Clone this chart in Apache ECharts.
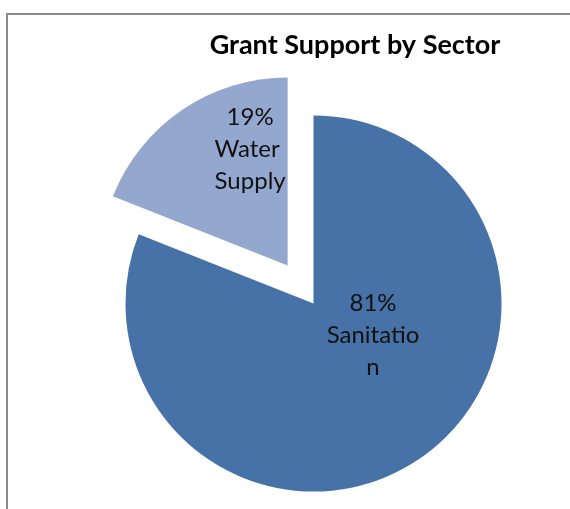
<!DOCTYPE html>
<html>
<head>
<meta charset="utf-8">
<script src="https://cdn.jsdelivr.net/npm/echarts@6/dist/echarts.min.js"></script>
<style>
  html, body { margin: 0; padding: 0; background: #ffffff; }
  #chart { width: 570px; height: 509px; }
</style>
</head>
<body>
<div id="chart"></div>
<script>
// Grant support split by sector (percent of total)
const sectors = ['Sanitation', 'Water Supply'];
const shares = [81, 19];
const chartTitle = 'Grant Support by Sector';

const sectorColors = ['#4672A7', '#94A8CF'];
// Water Supply slice is pulled out of the pie
const explodedSector = 'Water Supply';
// label nudges (dx, dy) so the text sits where it reads best inside each slice
const labelNudges = [[5, -48], [17, -36]];

const chart = echarts.init(document.getElementById('chart'), null, { renderer: 'canvas' });

const pieData = sectors.map((name, i) => ({
  name: name,
  value: shares[i],
  selected: name === explodedSector,
  itemStyle: { color: sectorColors[i] }
}));

chart.setOption({
  backgroundColor: '#ffffff',
  animation: false,
  title: {
    text: chartTitle,
    left: 350,
    top: 27,
    textAlign: 'center',
    textStyle: {
      fontFamily: 'Lato',
      fontWeight: 'bold',
      fontSize: 27,
      color: '#000000'
    }
  },
  graphic: [{
    type: 'rect',
    shape: { x: 7, y: 14, width: 620, height: 560 },
    style: { fill: 'none', stroke: '#8a8a8a', lineWidth: 2 },
    silent: true,
    z: -1
  }],
  series: [{
    type: 'pie',
    center: [313.5, 303.5],
    radius: [0, 188],
    startAngle: 90,
    clockwise: true,
    selectedMode: 'single',
    selectedOffset: 46,
    avoidLabelOverlap: false,
    emphasis: { disabled: true },
    itemStyle: { borderWidth: 0 },
    label: {
      show: true,
      position: 'inside',
      formatter: p => p.percent.toFixed(0) + '%\n' + p.name,
      fontFamily: 'Lato',
      fontSize: 24,
      lineHeight: 32,
      color: '#111111',
      align: 'center',
      width: 96,
      overflow: 'break'
    },
    labelLayout: p => ({ dx: labelNudges[p.dataIndex][0], dy: labelNudges[p.dataIndex][1] }),
    labelLine: { show: false },
    data: pieData
  }]
});
</script>
</body>
</html>
